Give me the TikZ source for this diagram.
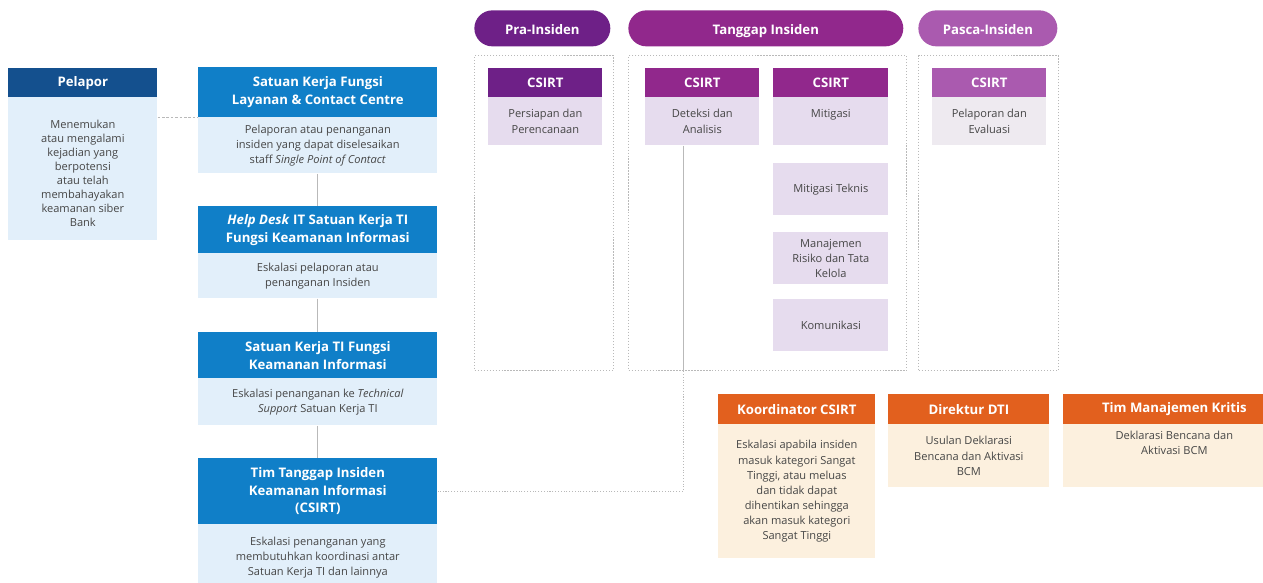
\documentclass[tikz,border=0pt]{standalone}
\usepackage{fontspec}
\setmainfont{Open Sans}
\usetikzlibrary{positioning}

\definecolor{biruTua}{RGB}{20,80,142}
\definecolor{biru}{RGB}{16,127,200}
\definecolor{biruMuda}{RGB}{226,239,250}
\definecolor{unguPra}{RGB}{110,32,135}
\definecolor{unguTanggap}{RGB}{145,40,140}
\definecolor{unguPasca}{RGB}{170,90,175}
\definecolor{lavender}{RGB}{230,220,238}
\definecolor{abuMuda}{RGB}{238,234,240}
\definecolor{oranye}{RGB}{226,96,30}
\definecolor{krem}{RGB}{252,240,222}
\definecolor{teks}{RGB}{70,70,70}
\definecolor{garisAbu}{RGB}{185,185,185}

\begin{document}
\begin{tikzpicture}[x=0.02cm, y=-0.02cm,
		kepala/.style={anchor=north west, inner sep=0pt, text=white, align=center,
			font=\bfseries\fontsize{7.5}{10}\selectfont},
		isi/.style={anchor=north west, inner sep=0pt, text=teks, align=center,
			font=\fontsize{6.3}{8.6}\selectfont},
		pil/.style={anchor=north west, inner sep=0pt, text=white, rounded corners=0.36cm,
			minimum height=0.72cm, text height=1.6ex, text depth=0.3ex,
			font=\bfseries\fontsize{7.5}{10}\selectfont},
		bingkai/.style={anchor=north west, draw=garisAbu, densely dotted, line width=0.7pt,
			minimum height=6.3cm},
		garis/.style={draw=garisAbu, line width=0.6pt}]
		\useasboundingbox (0,0) rectangle (1263,582);
		\clip (0,0) rectangle (1263,582);

		% kolom pelapor dan satuan kerja
		\begin{scope}[every node/.style={minimum width=4.78cm}]
			\node[kepala, fill=biruTua, minimum width=2.98cm, minimum height=0.58cm] (pelH) at (8,68) {Pelapor};
			\node[isi, fill=biruMuda, minimum width=2.98cm, minimum height=2.86cm, font=\fontsize{6.3}{8}\selectfont] (pelB) at (8,97) {\mbox{}\\[2pt]Menemukan\\atau mengalami\\kejadian yang\\berpotensi\\atau telah\\membahayakan\\keamanan siber\\Bank};

			\node[kepala, fill=biru, minimum height=1cm] (sk1H) at (198,67) {Satuan Kerja Fungsi\\Layanan \& Contact Centre};
			\node[isi, fill=biruMuda, minimum height=1.12cm] (sk1B) at (198,117) {Pelaporan atau penanganan\\insiden yang dapat diselesaikan\\staff \textit{Single Point of Contact}};

			\node[kepala, fill=biru, minimum height=0.94cm] (hdH) at (198,206) {\textit{Help Desk} IT Satuan Kerja TI\\Fungsi Keamanan Informasi};
			\node[isi, fill=biruMuda, minimum height=0.9cm] (hdB) at (198,253) {Eskalasi pelaporan atau\\penanganan Insiden};

			\node[kepala, fill=biru, minimum height=0.92cm] (sk2H) at (198,332) {Satuan Kerja TI Fungsi\\Keamanan Informasi};
			\node[isi, fill=biruMuda, minimum height=0.94cm] (sk2B) at (198,378) {Eskalasi penanganan ke \textit{Technical}\\\textit{Support} Satuan Kerja TI};

			\node[kepala, fill=biru, minimum height=1.32cm] (ttH) at (198,458) {Tim Tanggap Insiden\\Keamanan Informasi\\(CSIRT)};
			\node[isi, fill=biruMuda, minimum height=1.32cm] (ttB) at (198,524) {Eskalasi penanganan yang\\membutuhkan koordinasi antar\\Satuan Kerja TI dan lainnya};
		\end{scope}

		% tahapan insiden
		\begin{scope}
			\node[pil, fill=unguPra, minimum width=2.72cm] (pra) at (474,10) {Pra-Insiden};
			\node[pil, fill=unguTanggap, minimum width=5.5cm] (tanggap) at (628,10) {Tanggap Insiden};
			\node[pil, fill=unguPasca, minimum width=2.78cm] (pasca) at (918,10) {Pasca-Insiden};

			\node[bingkai, minimum width=2.78cm] (praF) at (474,55) {};
			\node[bingkai, minimum width=5.56cm] (tanggapF) at (628,55) {};
			\node[bingkai, minimum width=2.8cm] (pascaF) at (918,55) {};
		\end{scope}

		\begin{scope}[every node/.style={minimum width=2.28cm}]
			\node[kepala, fill=unguPra, minimum height=0.58cm] (praH) at (488,68) {CSIRT};
			\node[isi, fill=lavender, minimum height=0.96cm] (praB) at (488,97) {Persiapan dan\\Perencanaan};

			\node[kepala, fill=unguTanggap, minimum height=0.58cm] (detH) at (645,68) {CSIRT};
			\node[isi, fill=lavender, minimum height=0.96cm] (detB) at (645,97) {Deteksi dan\\Analisis};

			\node[kepala, fill=unguTanggap, minimum width=2.3cm, minimum height=0.58cm] (mitH) at (773,68) {CSIRT};
			\node[isi, fill=lavender, minimum width=2.3cm, minimum height=0.96cm] (mitB) at (773,97) {Mitigasi\\\mbox{}};
			\node[isi, fill=lavender, minimum width=2.3cm, minimum height=1.04cm] (mitT) at (773,163) {Mitigasi Teknis};
			\node[isi, fill=lavender, minimum width=2.3cm, minimum height=1.04cm] (manR) at (773,232) {Manajemen\\Risiko dan Tata\\Kelola};
			\node[isi, fill=lavender, minimum width=2.3cm, minimum height=1.04cm] (kom) at (773,299) {Komunikasi};

			\node[kepala, fill=unguPasca, minimum height=0.58cm] (pasH) at (932,68) {CSIRT};
			\node[isi, fill=abuMuda, minimum height=0.96cm] (pasB) at (932,97) {Pelaporan dan\\Evaluasi};
		\end{scope}

		% eskalasi
		\begin{scope}
			\node[kepala, fill=oranye, minimum width=3.14cm, minimum height=0.6cm] (korH) at (718,394) {Koordinator CSIRT};
			\node[isi, fill=krem, minimum width=3.14cm, minimum height=2.68cm] (korB) at (718,424) {Eskalasi apabila insiden\\masuk kategori Sangat\\Tinggi, atau meluas\\dan tidak dapat\\dihentikan sehingga\\akan masuk kategori\\Sangat Tinggi};

			\node[kepala, fill=oranye, minimum width=3.22cm, minimum height=0.6cm] (dirH) at (888,394) {Direktur DTI};
			\node[isi, fill=krem, minimum width=3.22cm, minimum height=1.26cm] (dirB) at (888,424) {Usulan Deklarasi\\Bencana dan Aktivasi\\BCM};

			\node[kepala, fill=oranye, minimum width=4.44cm, minimum height=0.6cm] (tmkH) at (1063,394) {Tim Manajemen Kritis};
			\node[isi, fill=krem, minimum width=4.44cm, minimum height=1.26cm] (tmkB) at (1063,424) {Deklarasi Bencana dan\\Aktivasi BCM\\[6pt]};
		\end{scope}

		\begin{scope}
			\draw[garis, dash pattern=on 1.5pt off 1pt] (pelB.east |- sk1H.south) -- (sk1H.south west);
			\draw[garis] (sk1B.south) -- (hdH.north);
			\draw[garis] (hdB.south) -- (sk2H.north);
			\draw[garis] (sk2B.south) -- (ttH.north);
			\draw[garis] ([xshift=-0.38cm]detB.south) coordinate (turun) -- (turun |- tanggapF.south);
			\draw[garis, densely dotted] (turun |- tanggapF.south) -- (turun |- ttH.east) -- (ttH.east);
		\end{scope}
\end{tikzpicture}
\end{document}
